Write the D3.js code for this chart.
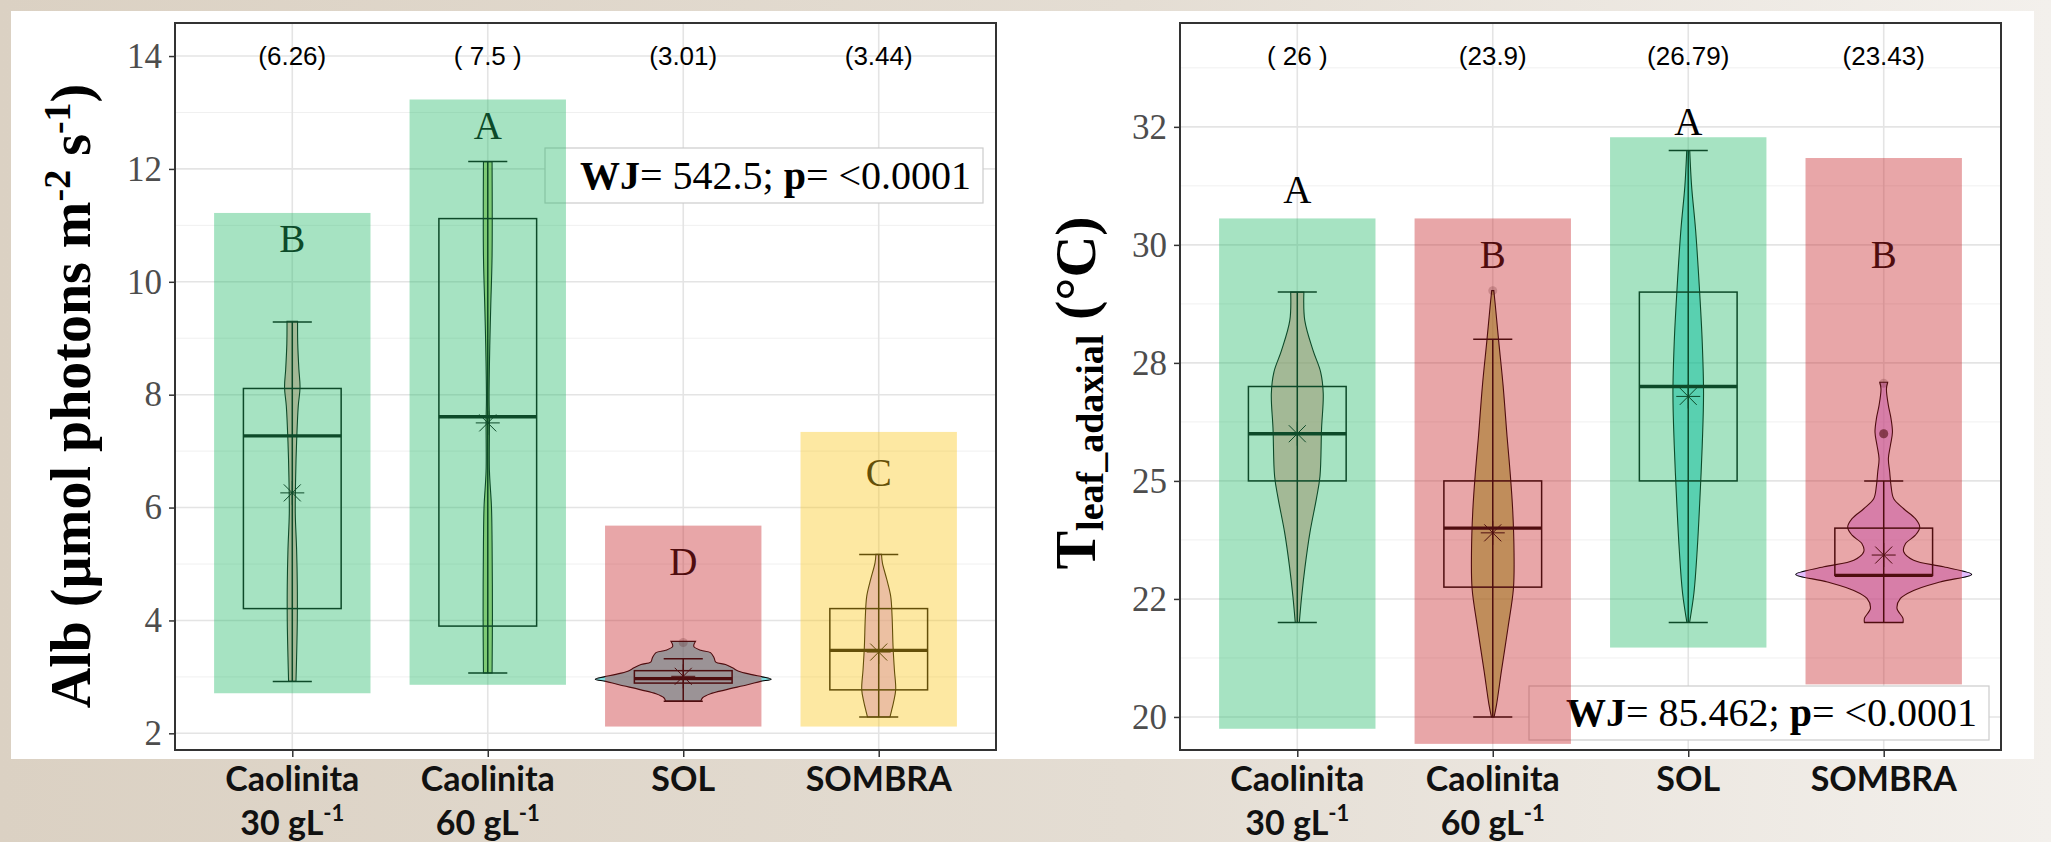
<!DOCTYPE html>
<html>
<head>
<meta charset="utf-8">
<script src="https://cdn.jsdelivr.net/npm/d3@7"></script>
<style>
  html, body { margin: 0; padding: 0; background: #e4dcd1; }
  svg { display: block; }
</style>
</head>
<body>
<svg id="chart" width="2051" height="842"></svg>
<script>
// ---------- shared categories ----------
const groups = ["Caolinita 30", "Caolinita 60", "SOL", "SOMBRA"];
const groupLine1 = ["Caolinita", "Caolinita", "SOL", "SOMBRA"];
const groupLine2 = ["30 gL", "60 gL", "", ""];
const groupSup = ["-1", "-1", "", ""];
const violinFills = ["#F8766D", "#7CAE00", "#00BFC4", "#C77CFF"];

// ---------- panel 1: Alb ----------
const albLow    = [2.92, 3.07, 2.57, 2.29];
const albQ1     = [4.21, 3.90, 2.89, 2.77];
const albMedian = [7.27, 7.61, 2.97, 3.47];
const albQ3     = [8.11, 11.12, 3.11, 4.21];
const albHigh   = [9.29, 12.13, 3.32, 5.17];
const albMean   = [6.26, 7.5, 3.01, 3.44];
const albOutliers = [[], [], [3.61], []];
const albLetters  = ["B", "A", "D", "C"];
const albLetterY  = [10.76, 12.75, 5.04, 6.61];
const albBandLow  = [2.71, 2.86, 2.12, 2.12];
const albBandHigh = [11.22, 13.23, 5.68, 7.34];
const albBandColor = ["green", "green", "red", "yellow"];
const albTicks = [2, 4, 6, 8, 10, 12, 14];
const albTickLabels = ["2", "4", "6", "8", "10", "12", "14"];
const albMinor = [3, 5, 7, 9, 11, 13];
const albLabelY = 14;
const albWJ = "542.5";
// violin outlines: [value, relative density]
const albDensity = [
  [[9.30,0.060],[8.90,0.062],[8.45,0.075],[8.13,0.088],[7.80,0.068],[7.16,0.049],[6.53,0.038],[5.90,0.034],[5.26,0.049],[4.63,0.057],[3.99,0.057],[3.35,0.049],[2.92,0.042]],
  [[12.13,0.049],[10.46,0.049],[9.57,0.034],[8.87,0.023],[7.92,0.015],[7.54,0.019],[6.65,0.019],[6.02,0.042],[5.38,0.049],[4.12,0.053],[3.07,0.049]],
  [[3.63,0.14],[3.54,0.12],[3.47,0.20],[3.43,0.31],[3.34,0.35],[3.26,0.37],[3.22,0.48],[3.16,0.56],[3.10,0.63],[3.04,0.78],[3.00,0.90],[2.96,1.0],[2.92,0.88],[2.86,0.73],[2.77,0.48],[2.70,0.31],[2.63,0.22],[2.57,0.20]],
  [[5.17,0.032],[5.02,0.042],[4.73,0.091],[4.43,0.136],[4.07,0.152],[3.54,0.163],[3.13,0.178],[2.77,0.193],[2.54,0.167],[2.39,0.144],[2.29,0.128]]
];

// ---------- panel 2: leaf temperature ----------
const tLow    = [22, 20, 22, 22];
const tQ1     = [25, 22.75, 25, 23];
const tMedian = [26, 24, 27, 23];
const tQ3     = [27, 25, 29, 24];
const tHigh   = [29, 28, 32, 25];
const tMean   = [26, 23.9, 26.79, 23.43];
const tOutliers = [[], [29.03], [], [26, 26, 26, 26, 27.07]];
const tLetters  = ["A", "B", "A", "B"];
const tLetterY  = [31.17, 29.79, 32.61, 29.79];
const tBandLow  = [19.75, 19.43, 21.47, 20.69];
const tBandHigh = [30.56, 30.56, 32.28, 31.84];
const tBandColor = ["green", "red", "green", "red"];
const tTicks = [20, 22.5, 25, 27.5, 30, 32.5];
const tTickLabels = ["20", "22", "25", "28", "30", "32"];
const tMinor = [21.25, 23.75, 26.25, 28.75, 31.25, 33.75];
const tLabelY = 34;
const tWJ = "85.462";
const tDensity = [
  [[29.0,0.075],[28.4,0.085],[27.76,0.18],[27.31,0.265],[26.85,0.295],[26.11,0.276],[25.10,0.258],[24.64,0.219],[23.91,0.144],[23.18,0.088],[22.54,0.049],[22.0,0.023]],
  [[29.03,0.012],[28.68,0.031],[27.95,0.068],[27.03,0.117],[25.93,0.163],[25.19,0.197],[24.37,0.227],[23.45,0.242],[22.72,0.235],[21.90,0.174],[20.98,0.099],[20.25,0.042],[20.0,0.015]],
  [[32.0,0.017],[31.25,0.038],[30.33,0.083],[29.05,0.128],[27.95,0.159],[26.85,0.174],[25.75,0.159],[24.64,0.133],[23.54,0.102],[22.63,0.065],[22.0,0.015]],
  [[27.09,0.045],[26.95,0.031],[26.60,0.053],[26.32,0.083],[26.03,0.099],[25.75,0.076],[25.47,0.053],[25.19,0.068],[24.90,0.083],[24.62,0.114],[24.41,0.227],[24.20,0.36],[24.02,0.41],[23.85,0.36],[23.67,0.247],[23.50,0.227],[23.32,0.34],[23.18,0.68],[23.02,1.0],[22.86,0.64],[22.68,0.34],[22.51,0.19],[22.30,0.151],[22.09,0.219],[22.0,0.219]]
];

// ---------- styling ----------
const bandFill = { green: "#21b966", red: "#c52126", yellow: "#fac517" };
const serif = "'Liberation Serif', 'Times New Roman', serif";
const sans = "'Liberation Sans', Arial, sans-serif";

const W = 2051, H = 842;
const svg = d3.select("#chart");
const defs = svg.append("defs");

// slide background with the white plotting card on top
const grad = defs.append("linearGradient").attr("id", "slide")
  .attr("x1", 0).attr("x2", 1).attr("y1", 0).attr("y2", 0);
grad.append("stop").attr("offset", 0).attr("stop-color", "#dbd1c3");
grad.append("stop").attr("offset", 0.55).attr("stop-color", "#e4ddd3");
grad.append("stop").attr("offset", 1).attr("stop-color", "#f3f0ec");
svg.append("rect").attr("width", W).attr("height", H).attr("fill", "url(#slide)");
svg.append("rect").attr("x", 11).attr("y", 11).attr("width", 2023).attr("height", 748).attr("fill", "#fff");

function meanLabel(m) {
  const s = String(m);
  return s.length >= 4 ? `(${s})` : `( ${s} )`;
}

function drawPanel(p) {
  const x = d3.scalePoint().domain(groups).range([p.left, p.right]).padding(0.6);
  const step = x.step();
  const y = d3.scaleLinear().domain(p.domain).range([p.bottom, p.top]);
  const g = svg.append("g");

  defs.append("clipPath").attr("id", "clip-" + p.id)
    .append("rect").attr("x", p.left).attr("y", p.top)
    .attr("width", p.right - p.left).attr("height", p.bottom - p.top);
  const plot = g.append("g").attr("clip-path", `url(#clip-${p.id})`);

  // grid
  plot.selectAll("line.minor").data(p.minor).join("line").attr("class", "minor")
    .attr("x1", p.left).attr("x2", p.right)
    .attr("y1", d => y(d)).attr("y2", d => y(d))
    .attr("stroke", "#f0f0f0").attr("stroke-width", 1);
  plot.selectAll("line.major").data(p.ticks).join("line").attr("class", "major")
    .attr("x1", p.left).attr("x2", p.right)
    .attr("y1", d => y(d)).attr("y2", d => y(d))
    .attr("stroke", "#e4e4e4").attr("stroke-width", 1.6);
  plot.selectAll("line.vgrid").data(groups).join("line").attr("class", "vgrid")
    .attr("x1", d => x(d)).attr("x2", d => x(d))
    .attr("y1", p.top).attr("y2", p.bottom)
    .attr("stroke", "#e4e4e4").attr("stroke-width", 1.6);

  // test statistic label
  const lb = plot.append("g");
  lb.append("rect").attr("x", p.box[0]).attr("y", p.box[1])
    .attr("width", p.box[2]).attr("height", p.box[3])
    .attr("fill", "#fff").attr("stroke", "#cccccc").attr("stroke-width", 1.2);
  const lt = lb.append("text")
    .attr("x", p.box[0] + p.box[2] - 12).attr("y", p.box[1] + p.box[3] / 2)
    .attr("dy", "0.33em").attr("text-anchor", "end")
    .style("font-family", serif).style("font-size", "40px").attr("fill", "#000");
  lt.append("tspan").attr("font-weight", "bold").text("WJ");
  lt.append("tspan").text(`= ${p.wj}; `);
  lt.append("tspan").attr("font-weight", "bold").text("p");
  lt.append("tspan").text("= <0.0001");

  // violins
  groups.forEach((grp, i) => {
    const cx = x(grp);
    const area = d3.area().curve(d3.curveCatmullRom)
      .y(d => y(d[0]))
      .x0(d => cx - d[1] * 0.45 * step)
      .x1(d => cx + d[1] * 0.45 * step);
    plot.append("path").attr("d", area(p.density[i]))
      .attr("fill", violinFills[i]).attr("fill-opacity", 0.5)
      .attr("stroke", "#000").attr("stroke-width", 1.1);
  });

  // boxplots with error-bar whiskers
  groups.forEach((grp, i) => {
    const cx = x(grp);
    const bw = 0.25 * step, cw = 0.1 * step;
    const bg = plot.append("g").attr("stroke", "#000").attr("fill", "none");
    bg.append("line").attr("x1", cx).attr("x2", cx)
      .attr("y1", y(p.low[i])).attr("y2", y(p.high[i])).attr("stroke-width", 1.5);
    bg.append("line").attr("x1", cx - cw).attr("x2", cx + cw)
      .attr("y1", y(p.low[i])).attr("y2", y(p.low[i])).attr("stroke-width", 1.5);
    bg.append("line").attr("x1", cx - cw).attr("x2", cx + cw)
      .attr("y1", y(p.high[i])).attr("y2", y(p.high[i])).attr("stroke-width", 1.5);
    bg.append("rect").attr("x", cx - bw).attr("width", 2 * bw)
      .attr("y", y(p.q3[i])).attr("height", y(p.q1[i]) - y(p.q3[i]))
      .attr("stroke-width", 1.5);
    bg.append("line").attr("x1", cx - bw).attr("x2", cx + bw)
      .attr("y1", y(p.median[i])).attr("y2", y(p.median[i])).attr("stroke-width", 3.4);

    // outliers
    plot.selectAll(null).data(p.outliers[i]).join("circle")
      .attr("cx", cx).attr("cy", d => y(d)).attr("r", 4.5)
      .attr("fill", "#000").attr("fill-opacity", 0.2);

    // mean marker (asterisk)
    const my = y(p.mean[i]), a = 12, b = 8.5;
    plot.append("path")
      .attr("d", `M${cx - a},${my}H${cx + a}M${cx},${my - a}V${my + a}` +
                 `M${cx - b},${my - b}L${cx + b},${my + b}M${cx - b},${my + b}L${cx + b},${my - b}`)
      .attr("stroke", "#000").attr("stroke-width", 1).attr("fill", "none");

    // group letter
    plot.append("text").attr("x", cx).attr("y", y(p.letterY[i])).attr("dy", "0.33em")
      .attr("text-anchor", "middle").style("font-family", serif).style("font-size", "39px")
      .attr("fill", "#000").text(p.letters[i]);
  });

  // translucent highlight bands over each group
  plot.selectAll("rect.band").data(groups).join("rect").attr("class", "band")
    .attr("x", d => x(d) - 0.4 * step).attr("width", 0.8 * step)
    .attr("y", (d, i) => y(p.bandHigh[i]))
    .attr("height", (d, i) => y(p.bandLow[i]) - y(p.bandHigh[i]))
    .attr("fill", (d, i) => bandFill[p.bandColor[i]]).attr("fill-opacity", 0.4);

  // mean values along the top
  plot.selectAll("text.mean").data(groups).join("text").attr("class", "mean")
    .attr("x", d => x(d)).attr("y", y(p.labelY)).attr("dy", "0.35em")
    .attr("text-anchor", "middle").style("font-family", sans).style("font-size", "26px")
    .style("white-space", "pre").attr("fill", "#000")
    .text((d, i) => meanLabel(p.mean[i]));

  // panel border
  g.append("rect").attr("x", p.left).attr("y", p.top)
    .attr("width", p.right - p.left).attr("height", p.bottom - p.top)
    .attr("fill", "none").attr("stroke", "#333").attr("stroke-width", 2);

  // axes
  const yAxis = d3.axisLeft(y).tickValues(p.ticks)
    .tickFormat((d, i) => p.tickLabels[i]).tickSize(6).tickPadding(7);
  g.append("g").attr("transform", `translate(${p.left},0)`).call(yAxis)
    .call(a => {
      a.attr("font-size", null).attr("font-family", null);
      a.select(".domain").remove();
      a.selectAll(".tick line").attr("stroke", "#333").attr("stroke-width", 1.5);
      a.selectAll("text").style("font-family", serif).style("font-size", "35px").attr("fill", "#4d4d4d");
    });
  const xAxis = d3.axisBottom(x).tickFormat("").tickSize(7);
  g.append("g").attr("transform", `translate(0,${p.bottom})`).call(xAxis)
    .call(a => {
      a.select(".domain").remove();
      a.selectAll(".tick line").attr("stroke", "#333").attr("stroke-width", 1.5);
    });

  // category labels below the card
  groups.forEach((grp, i) => {
    const cx = x(grp);
    svg.append("text").attr("x", cx).attr("y", 791).attr("text-anchor", "middle")
      .style("font-family", "Lato, 'Open Sans', sans-serif").style("font-weight", 700)
      .style("font-size", "34px").attr("fill", "#111").text(groupLine1[i]);
    if (groupLine2[i]) {
      const t2 = svg.append("text").attr("x", cx).attr("y", 835).attr("text-anchor", "middle")
        .style("font-family", "Lato, 'Open Sans', sans-serif").style("font-weight", 700)
        .style("font-size", "34px").attr("fill", "#111");
      t2.append("tspan").text(groupLine2[i]);
      t2.append("tspan").attr("dy", -14).style("font-size", "22px").text(groupSup[i]);
    }
  });
}

drawPanel({
  id: "alb", left: 175, right: 996, top: 23, bottom: 750,
  domain: [1.7045, 14.5855], ticks: albTicks, tickLabels: albTickLabels, minor: albMinor,
  low: albLow, q1: albQ1, median: albMedian, q3: albQ3, high: albHigh, mean: albMean,
  outliers: albOutliers, letters: albLetters, letterY: albLetterY,
  bandLow: albBandLow, bandHigh: albBandHigh, bandColor: albBandColor,
  density: albDensity, labelY: albLabelY, wj: albWJ, box: [545, 148, 438, 55]
});

drawPanel({
  id: "tleaf", left: 1180, right: 2001, top: 23, bottom: 750,
  domain: [19.3, 34.7], ticks: tTicks, tickLabels: tTickLabels, minor: tMinor,
  low: tLow, q1: tQ1, median: tMedian, q3: tQ3, high: tHigh, mean: tMean,
  outliers: tOutliers, letters: tLetters, letterY: tLetterY,
  bandLow: tBandLow, bandHigh: tBandHigh, bandColor: tBandColor,
  density: tDensity, labelY: tLabelY, wj: tWJ, box: [1529, 686, 460, 54]
});

// axis titles
const t1 = svg.append("text").attr("transform", "translate(90,396) rotate(-90)")
  .attr("text-anchor", "middle").style("font-family", serif).style("font-weight", "bold")
  .style("font-size", "56px").attr("fill", "#000");
t1.append("tspan").text("Alb (µmol photons m");
t1.append("tspan").attr("dy", -20).style("font-size", "38px").text("-2");
t1.append("tspan").attr("dy", 20).text(" s");
t1.append("tspan").attr("dy", -20).style("font-size", "38px").text("-1");
t1.append("tspan").attr("dy", 20).text(")");

const t2 = svg.append("text").attr("transform", "translate(1095,393) rotate(-90)")
  .attr("text-anchor", "middle").style("font-family", serif).style("font-weight", "bold")
  .style("font-size", "58px").attr("fill", "#000");
t2.append("tspan").text("T");
t2.append("tspan").attr("dy", 8).style("font-size", "38px").text("leaf_adaxial");
t2.append("tspan").attr("dy", -8).text(" (°C)");
</script>
</body>
</html>
